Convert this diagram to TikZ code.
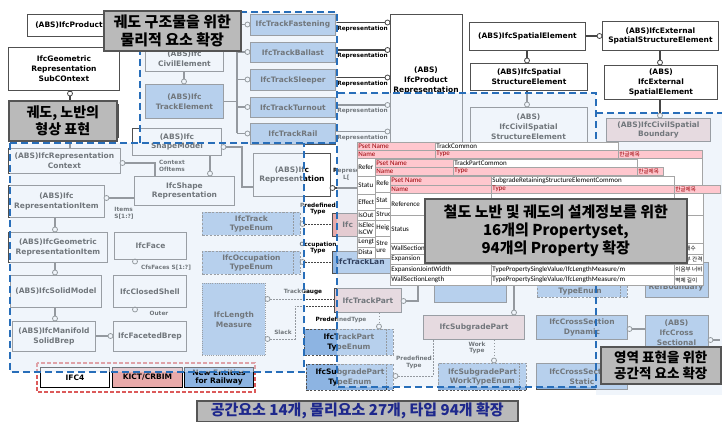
\documentclass[tikz,border=0pt]{standalone}
\usepackage{fontspec}
\setmainfont{DejaVu Sans}
\newfontfamily\krfont{Noto Sans CJK KR}
\newfontfamily\tabfont{Carlito}
\definecolor{bd}{RGB}{80,80,80}
\definecolor{bfill}{RGB}{141,180,226}
\definecolor{pfill}{RGB}{232,170,170}
\definecolor{gpfill}{RGB}{236,200,200}
\definecolor{ovl}{RGB}{226,237,248}
\definecolor{rblue}{RGB}{40,110,185}
\definecolor{cgray}{RGB}{186,186,186}
\definecolor{cbd}{RGB}{85,85,85}
\definecolor{tpink}{RGB}{255,199,206}
\definecolor{tred}{RGB}{156,0,6}
\definecolor{tgrid}{RGB}{165,165,165}
\definecolor{navy}{RGB}{30,40,140}
\definecolor{lnc}{RGB}{70,70,70}
\definecolor{lgred}{RGB}{220,90,90}
\newcommand\bxx[7][]{\node[bx,#1,minimum width={(#5-#3)*1pt},minimum height={(#6-#4)*1pt},anchor=north west] (#2) at (#3,#4) {#7};}
\newcommand\tw[6]{\draw[tgl,fill=white] (#2,#3) rectangle (#4,#5); \node[ttx,anchor=west] (#1) at (#2+1.2,{(#3+#5)/2}) {#6};}
\newcommand\tp[6]{\draw[tgl,fill=tpink] (#2,#3) rectangle (#4,#5); \node[ttx,text=tred,anchor=west] (#1) at (#2+1.2,{(#3+#5)/2}) {#6};}
\newcommand\kt[1]{{\krfont\fontsize{5.6}{6}\selectfont #1}}
\begin{document}
\begin{tikzpicture}[x=1pt,y=-1pt,
 bx/.style={draw=bd, line width=0.9pt, fill=white, align=center, inner sep=0pt, font=\fontsize{7.5}{9.8}\selectfont\bfseries, text=black},
 bl/.style={fill=bfill},
 pk/.style={fill=pfill},
 gp/.style={fill=gpfill},
 en/.style={dash pattern=on 2.2pt off 1.5pt, fill=bfill},
 lm/.style={dash pattern=on 1pt off 1.2pt, fill=bfill},
 oc/.style={circle, draw=lnc, fill=white, line width=0.8pt, inner sep=0pt, minimum size=5pt},
 ln/.style={draw=lnc, line width=1.1pt},
 dl/.style={draw=lnc, line width=0.8pt, dash pattern=on 1.5pt off 1.5pt},
 lb/.style={font=\fontsize{5.8}{6.8}\selectfont\bfseries, align=center, inner sep=0pt, text=black},
 rg/.style={draw=rblue, line width=1.8pt, dash pattern=on 7pt off 4pt},
 ov/.style={fill=ovl, fill opacity=0.5, draw=none},
 co/.style={draw=cbd, line width=1.6pt, fill=cgray, align=center, inner sep=0pt, anchor=north west, font=\krfont\bfseries\fontsize{15}{18}\selectfont},
 tgl/.style={draw=tgrid, line width=0.4pt},
 ttx/.style={inner sep=0pt, font=\tabfont\fontsize{7}{7.5}\selectfont, text=black, align=left}
]
\useasboundingbox (0,0) rectangle (722,422);
\fill[white] (0,0) rectangle (722,422);

% ---------- top left ----------
\bxx{prod}{27}{14}{110}{36}{(ABS)IfcProduct}
\bxx{subctx}{8}{47}{119}{90}{IfcGeometric\\Representation\\SubCOntext}
\bxx{geoctx}{8}{104}{118}{137}{}
\bxx{repctx}{8}{148}{120}{173}{(ABS)IfcRepresentation\\Context}
\node[oc] (k0) at (70,93.5) {};
\draw[ln] (subctx.south -| k0) -- (k0.north);
\draw[ln] (k0.south) -- (k0 |- repctx.north);

% ---------- track elements ----------
\bxx{civil}{145}{46}{223}{71}{(ABS)Ifc\\CivilElement}
\bxx[bl]{trel}{145}{84}{223}{118}{(ABS)Ifc\\TrackElement}
\node[oc] (k1) at (184,81.5) {};
\draw[ln] (civil.south -| k1) -- (k1.north);
\draw[ln] (k1.south) -- (k1 |- trel.north);
\bxx[bl]{fast}{250}{14}{335}{35}{IfcTrackFastening}
\bxx[bl]{ball}{250}{42}{335}{62}{IfcTrackBallast}
\bxx[bl]{slp}{250}{69}{335}{90}{IfcTrackSleeper}
\bxx[bl]{turn}{250}{97}{335}{117}{IfcTrackTurnout}
\bxx[bl]{rail}{250}{123}{335}{144}{IfcTrackRail}
\node[oc] (kf) at (247.5,24.5) {};
\node[oc] (kb2) at (247.5,52) {};
\node[oc] (ks0) at (247.5,79.5) {};
\node[oc] (kt0) at (247.5,107) {};
\node[oc] (kr0) at (247.5,133.5) {};
\coordinate (bus) at (237,0);
\draw[ln] (trel.east) -- (trel.east -| bus);
\draw[ln] (bus |- kf) -- (bus |- kr0);
\foreach \k in {kf,kb2,ks0,kt0,kr0} \draw[ln] (bus |- \k) -- (\k.west);

% product representation
\bxx{prodrep}{390}{14}{462}{170}{}
\node[bx,draw=none,fill=none] (prodrept) at (426,80.5) {(ABS)\\IfcProduct\\Representation};
\node[oc] (rf1) at (387.5,22.5) {};
\node[oc] (rf2) at (387.5,50) {};
\node[oc] (rf3) at (387.5,77.5) {};
\node[oc] (rf4) at (387.5,105) {};
\node[oc] (rf5) at (387.5,131.5) {};
\draw[ln] (fast.east |- rf1) -- (rf1.west);
\draw[ln] (ball.east |- rf2) -- (rf2.west);
\draw[ln] (slp.east |- rf3) -- (rf3.west);
\draw[ln] (turn.east |- rf4) -- (rf4.west);
\draw[ln] (rail.east |- rf5) -- (rf5.west);
\node[lb] (rl1) at (362.5,28.5) {Representation};
\node[lb] (rl2) at (362.5,56) {Representation};
\node[lb] (rl3) at (362.5,83.5) {Representation};
\node[lb] (rl4) at (362.5,111) {Representation};
\node[lb] (rl5) at (362.5,137.5) {Representation};

% ---------- spatial ----------
\bxx{spel}{469}{22}{585}{50}{(ABS)IfcSpatialElement}
\bxx{exsse}{602}{21}{718}{50}{(ABS)IfcExternal\\SpatialStructureElement}
\bxx{sse}{470}{63}{587}{90}{(ABS)IfcSpatial\\StructureElement}
\bxx{exse}{604}{65}{717}{99}{(ABS)\\IfcExternal\\SpatialElement}
\bxx{civsse}{470}{107}{587}{170}{}
\node[bx,draw=none,fill=none] (civsset) at (528.5,127) {(ABS)\\IfcCivilSpatial\\StructureElement};
\bxx[gp]{civbnd}{606}{118}{710}{141}{(ABS)IfcCivilSpatial\\Boundary}
\node[oc] (ks1) at (599.5,36) {};
\node[oc] (ks2) at (527,60.5) {};
\node[oc] (ks3) at (660,62.5) {};
\node[oc] (ks4) at (527,104.5) {};
\node[oc] (ks5) at (660,115.5) {};
\draw[ln] (spel.east |- ks1) -- (ks1.west);
\draw[ln] (spel.south -| ks2) -- (ks2.north);
\draw[ln] (exsse.south -| ks3) -- (ks3.north);
\draw[ln] (sse.south -| ks4) -- (ks4.north);
\draw[ln] (exse.south -| ks5) -- (ks5.north);

% ---------- shape representation ----------
\bxx{shm}{132}{128}{221}{155}{(ABS)Ifc\\ShapeModel}
\bxx{shr}{134}{176}{234}{205}{IfcShape\\Representation}
\bxx{rit}{8}{185}{104}{217}{(ABS)Ifc\\RepresentationItem}
\bxx{gri}{8}{232}{107}{262}{(ABS)IfcGeometric\\RepresentationItem}
\bxx{face}{114}{232}{186}{259}{IfcFace}
\bxx{csh}{113}{275}{186}{307}{IfcClosedShell}
\bxx{solid}{10}{275}{101}{307}{(ABS)IfcSolidModel}
\bxx{msb}{12}{321}{95}{351}{(ABS)IfcManifold\\SolidBrep}
\bxx{fbr}{113}{321}{186}{351}{IfcFacetedBrep}
\bxx{irep}{253}{153}{330}{196}{(ABS)Ifc\\Representation}
\node[oc] (ka) at (210,173.5) {};
\node[oc] (kb) at (122.5,163) {};
\node[oc] (kc) at (106.5,198) {};
\node[oc] (kd) at (55,229.5) {};
\node[oc] (ke) at (55,272.5) {};
\node[oc] (kg2) at (55,318.5) {};
\node[oc] (kg) at (110.5,336) {};
\node[oc] (kh) at (135,261.5) {};
\node[oc] (ki) at (135,309.5) {};
\node[oc] (kj) at (223.5,147) {};
\node[oc] (kk) at (332.5,188) {};
\draw[ln] (shm.south -| ka) -- (ka.north);
\coordinate (cb) at (155,163);
\draw[ln] (kb.east) -- (cb) -- (cb |- shr.north);
\draw[ln] (shr.west |- kc) -- (kc.east);
\draw[ln] (rit.south -| kd) -- (kd.north);
\draw[ln] (gri.south -| ke) -- (ke.north);
\draw[ln] (solid.south -| kg2) -- (kg2.north);
\draw[ln] (msb.east |- kg) -- (kg.west);
\draw[ln] (face.south -| kh) -- (kh.north);
\draw[ln] (csh.south -| ki) -- (ki.north);
\coordinate (cj) at (242,147);
\coordinate (cj2) at (242,187);
\draw[ln] (kj.east) -- (cj) -- (cj2) -- (cj2 -| irep.west);
\draw[ln] (kk.east) -- (prodrep.west |- kk);
\node[lb] (lctx) at (172,166) {Context\\OfItems};
\node[lb,align=left] (litm) at (124,213.5) {Items\\S[1:?]};
\node[lb] (lcfs) at (166,268) {CfsFaces S[1:?]};
\node[lb] (lout) at (159,313.5) {Outer};
\node[lb,align=left,anchor=west] (lrep) at (333,174.5) {Represe\\\hspace*{10pt}L[};

% ---------- types ----------
\bxx[en]{tte}{202}{212}{300}{235}{IfcTrack\\TypeEnum}
\bxx[en]{ote}{202}{251}{300}{274}{IfcOccupation\\TypeEnum}
\bxx[lm]{lmeas}{202}{283}{265}{355}{IfcLength\\Measure}
\bxx[pk]{tpk}{332}{213}{420}{236}{}
\node[bx,draw=none,fill=none,anchor=west] (tpkt) at (342,224.5) {Ifc};
\bxx[bl]{tlan}{332}{251}{420}{273}{}
\bxx[gp]{tpart}{334}{288}{401}{312}{IfcTrackPart}
\bxx[en]{tpte}{304}{329}{393}{355}{IfcTrackPart\\TypeEnum}
\bxx[en]{spte}{306}{364}{393}{390}{IfcSubgradePart\\TypeEnum}
\bxx[bl]{hb}{434}{250}{506}{302}{}
\bxx[gp]{spart}{423}{315}{524}{339}{IfcSubgradePart}
\bxx[en]{swte}{438}{363}{526}{390}{IfcSubgradePart\\WorkTypeEnum}
\bxx[en]{xte}{537}{262}{627}{297}{}
\node[bx,draw=none,fill=none] (xtet) at (580,291.5) {TypeEnum};
\bxx[bl]{rbd}{645}{262}{708}{297}{}
\node[bx,draw=none,fill=none] (rbdt) at (676,287) {RefBoundary};
\bxx[bl]{csd}{536}{315}{627}{339}{IfcCrossSection\\Dynamic}
\bxx[bl]{css}{536}{363}{627}{389}{IfcCrossSection\\Static}
\bxx[bl]{csl}{645}{315}{708}{372}{}
\node[bx,draw=none,fill=none] (cslt) at (676.5,332.5) {(ABS)\\IfcCross\\Sectional};
\foreach \b in {tte,ote,tpte,spte,swte,xte}
  \draw[dl] ([xshift=-8pt]\b.north east) -- ([xshift=-8pt]\b.south east);
\node[oc] (kl) at (302.5,224) {};
\node[oc] (km) at (302.5,262) {};
\node[oc] (kn) at (267.5,299) {};
\node[oc] (ko) at (267.5,339) {};
\node[oc] (kp) at (379,326.5) {};
\node[oc] (kq) at (403.5,301) {};
\node[oc] (kr2) at (514,312.5) {};
\node[oc] (ks) at (395.5,376) {};
\node[oc] (kt) at (494,360.5) {};
\node[oc] (ku) at (629.5,329) {};
\node[oc] (kv) at (710.5,340) {};
\draw[ln] (tte.east |- kl) -- (kl.west);
\draw[dl] (kl.east) -- (tpk.west |- kl);
\draw[ln] (ote.east |- km) -- (km.west);
\draw[dl] (km.east) -- (tlan.west |- km);
\draw[dl] (kn.east) -- (tpart.west |- kn);
\coordinate (co1) at (295,339);
\coordinate (co2) at (295,306);
\draw[dl] (ko.east) -- (co1) -- (co2) -- (co2 -| tpart.west);
\draw[dl] (tpart.south -| kp) -- (kp.north);
\coordinate (cq) at (418,301);
\coordinate (cq2) at (418,280);
\draw[ln] (kq.east) -- (cq) -- (cq2);
\coordinate (cr) at (514,280);
\draw[ln] (kr2.north) -- (cr);
\coordinate (ct) at (433,376);
\draw[dl] (ks.east) -- (ct) -- (ct |- spart.south);
\draw[dl] (spart.south -| kt) -- (kt.north);
\draw[ln] (ku.east) -- (csl.west |- ku);
\draw[ln] (kv.east) -- (720,340);
\node[lb] (lpt1) at (318,209) {Predefined\\Type};
\node[lb] (lpt2) at (318,248) {Occupation\\Type};
\node[lb] (ltg) at (303,292) {TrackGauge};
\node[lb] (lsl) at (283,332) {Slack};
\node[lb] (lpt3) at (341,320) {PredefinedType};
\node[lb] (lpt4) at (414,362.5) {Predefined\\Type};
\node[lb] (lwt) at (477,348) {Work\\Type};

% legend
\draw[lgred, line width=1.1pt, dash pattern=on 4pt off 2pt] (37,363) rectangle (255,392);
\bxx[draw=black]{lg1}{40}{367}{109}{387}{IFC4}
\bxx[pk,draw=black]{lg2}{112}{367}{182}{387}{KICT/CRBIM}
\bxx[bl,draw=black,font=\fontsize{7.5}{8.6}\selectfont\bfseries]{lg3}{184}{367}{253}{387}{New Entities\\for Railway}

% ---------- translucent overlays ----------
\fill[ov] (140,12) rectangle (337,143);
\fill[ov] (10,143) rectangle (304,372);
\fill[ov] (337,93) rectangle (596,387);
\fill[ov] (596,113) rectangle (722,395);
\node[bx,draw=none,fill=none,anchor=west,text={rgb,255:red,50;green,65;blue,95}] (tlant) at (336,262) {IfcTrackLan};

% ---------- region borders ----------
\draw[rg] (140,143) -- (140,12) -- (337,12) -- (337,387) -- (596,387) -- (596,93) -- (337,93);
\draw[rg] (10,143) -- (337,143);
\draw[rg] (10,143) -- (10,372) -- (304,372) -- (304,143);
\draw[rg] (596,113) -- (722,113);

% ---------- property tables ----------
\draw[tgl,fill=white] (357,158) rectangle (702,258);
\tp{t1a}{357}{142}{435}{150.5}{Pset Name}
\tw{t1b}{435}{142}{618}{150.5}{TrackCommon}
\tp{t1c}{357}{150.5}{435}{158}{Name}
\tp{t1d}{435}{150.5}{618}{158}{Type}
\tp{t1e}{618}{150.5}{702}{158}{\kt{한글제목}}
\tw{t1f}{357}{158}{435}{176}{Refer}
\tw{t1g}{357}{176}{435}{194}{Statu}
\tw{t1h}{357}{194}{435}{210}{Effect}
\tw{t1i}{357}{210}{435}{220}{IsOut}
\tw{t1j}{357}{220}{435}{237}{IsElec\\IsCW}
\tw{t1k}{357}{237}{435}{247}{Lengt}
\tw{t1l}{357}{247}{435}{258}{Dista}
\draw[tgl] (618,158) -- (618,258);

\draw[tgl,fill=white] (375,175) rectangle (663,258);
\tp{t2a}{375}{159}{453}{167}{Pset Name}
\tw{t2b}{453}{159}{637}{167}{TrackPartCommon}
\tp{t2c}{375}{167}{453}{175}{Name}
\tp{t2d}{453}{167}{637}{175}{Type}
\tp{t2e}{637}{167}{663}{175}{\kt{한글제목}}
\tw{t2f}{375}{175}{453}{192}{Refe}
\tw{t2g}{375}{192}{453}{208}{Stat}
\tw{t2h}{375}{208}{453}{220}{Struc}
\tw{t2i}{375}{220}{453}{236}{Heig}
\tw{t2j}{375}{236}{453}{258}{Stre\\ure}

\tp{t3a}{390}{176}{491}{185}{Pset Name}
\tw{t3b}{491}{176}{674}{185}{SubgradeRetainingStructureElementCommon}
\tp{t3c}{390}{185}{491}{193}{Name}
\tp{t3d}{491}{185}{674}{193}{Type}
\tp{t3e}{674}{185}{720}{193}{\kt{한글제목}}
\tw{t3f}{390}{193}{491}{215}{Reference}
\tw{t3g}{491}{193}{674}{215}{}
\tw{t3h}{674}{193}{703}{215}{}
\tw{t3i}{390}{215}{491}{243}{Status}
\tw{t3j}{491}{215}{674}{243}{}
\tw{t3k}{674}{215}{703}{243}{}
\tw{t3l}{390}{243}{491}{254}{WallSection}
\tw{t3m}{491}{243}{674}{254}{}
\tw{t3n}{674}{243}{703}{254}{\hspace*{10pt}\kt{개수}}
\tw{t3o}{390}{254}{491}{264}{Expansion}
\tw{t3p}{491}{254}{674}{264}{}
\tw{t3q}{674}{254}{703}{264}{\kt{이음부 간격}}
\tw{t3r}{390}{264}{491}{275}{ExpansionJointWidth}
\tw{t3s}{491}{264}{674}{275}{TypePropertySingleValue/IfcLengthMeasure/m}
\tw{t3t}{674}{264}{703}{275}{\kt{이음부 너비}}
\tw{t3u}{390}{275}{491}{285}{WallSectionLength}
\tw{t3v}{491}{275}{674}{285}{TypePropertySingleValue/IfcLengthMeasure/m}
\tw{t3w}{674}{275}{703}{285}{\kt{벽체 길이}}

% ---------- callouts ----------
\node[co, minimum width=137pt, minimum height=40pt] (c1) at (103,10) {궤도 구조물을 위한\\물리적 요소 확장};
\node[co, minimum width=108pt, minimum height=40pt, font=\krfont\bfseries\fontsize{14}{17}\selectfont] (c2) at (8,100) {궤도, 노반의\\형상 표현};
\node[co, minimum width=262pt, minimum height=64pt] (c3) at (424,198) {철도 노반 및 궤도의 설계정보를 위한\\16개의 Propertyset,\\94개의 Property 확장};
\node[co, minimum width=120pt, minimum height=37pt, font=\krfont\bfseries\fontsize{13.5}{16.5}\selectfont] (c4) at (600,346) {영역 표현을 위한\\공간적 요소 확장};
\node[co, minimum width=321pt, minimum height=21pt, text=navy] (c5) at (196,400) {공간요소 14개, 물리요소 27개, 타입 94개 확장};
\end{tikzpicture}
\end{document}
